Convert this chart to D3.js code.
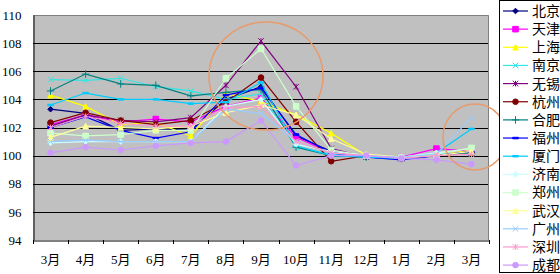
<!DOCTYPE html>
<html><head><meta charset="utf-8">
<script src="https://cdn.jsdelivr.net/npm/d3@7"></script>
<style>
html,body{margin:0;padding:0;background:#fff;}
svg{display:block;}
text{font-family:"Liberation Serif","Noto Sans CJK SC",serif;}
</style></head>
<body>
<svg id="c" width="560" height="274"></svg>
<script>
const months = ["3月","4月","5月","6月","7月","8月","9月","10月","11月","12月","1月","2月","3月"];
const yTicks = [94,96,98,100,102,104,106,108,110];
const cities = ["北京","天津","上海","南京","无锡","杭州","合肥","福州","厦门","济南","郑州","武汉","广州","深圳","成都"];
const colors = ["#000080","#FF00FF","#FFFF00","#33E5E5","#800080","#800000","#008080","#0000FF","#00CCFF","#CCFFFF","#CCFFCC","#FFFF99","#99CCFF","#FF99CC","#CC99FF"];
const markers = ["diamond","square","triangle","x","star","circle","plus","dash","dash","diamond","square","triangle","x","star","circle"];

const bj = [103.3,103.0,101.8,101.9,101.8,104.0,104.9,101.4,100.3,99.9,99.8,100.0,100.3];
const tj = [102.2,102.9,102.4,102.6,102.4,103.5,104.1,101.3,100.2,100.0,99.9,100.5,100.3];
const sh = [104.3,103.5,102.2,102.35,101.4,104.4,103.85,102.9,101.6,100.0,99.9,100.0,100.4];
const nj = [105.4,105.35,105.5,104.9,104.6,104.0,104.4,100.6,100.1,99.9,99.8,100.1,100.2];
const wx = [102.1,102.9,102.5,102.4,102.7,105.0,108.15,104.9,100.5,99.9,99.8,100.0,100.2];
const hz = [102.35,103.05,102.5,102.2,102.5,103.8,105.55,102.4,99.6,100.0,99.8,100.0,100.2];
const hf = [104.6,105.8,105.1,105.0,104.25,104.5,104.7,100.6,100.0,99.9,99.8,100.0,100.2];
const fz = [102.0,102.75,101.8,101.25,101.7,104.3,104.8,101.5,100.2,99.9,99.7,100.0,100.3];
const xm = [103.6,104.45,104.0,104.0,103.7,103.8,105.2,100.7,100.0,99.9,99.8,100.2,101.9];
const jn = [100.9,101.0,101.0,101.0,101.0,103.5,104.0,100.8,100.3,100.0,99.9,100.2,100.5];
const zz = [101.6,101.4,101.5,101.8,101.8,105.5,107.6,103.5,100.4,100.0,99.9,100.1,100.55];
const wh = [101.3,102.1,102.0,101.9,102.1,103.05,103.6,102.9,101.2,100.1,99.9,100.0,100.3];
const gz = [101.0,101.1,101.0,101.0,101.0,103.3,103.0,101.0,100.2,100.0,99.9,100.1,102.7];
const szh = [102.0,102.8,102.3,102.1,102.1,103.4,103.5,101.0,100.2,100.0,99.8,100.0,100.1];
const cd = [100.2,100.6,100.4,100.7,100.9,101.0,102.5,99.3,100.0,100.0,99.8,99.7,99.4];
const series = [bj,tj,sh,nj,wx,hz,hf,fz,xm,jn,zz,wh,gz,szh,cd];

const svg = d3.select("#c");
const L = 33, R = 489, T = 15, B = 240;
const x = d3.scaleBand().domain(d3.range(months.length)).range([L, R]);
const y = d3.scaleLinear().domain([94,110]).range([B, T]);
const cx = i => x(i) + x.bandwidth()/2;

svg.append("rect").attr("x",L).attr("y",T).attr("width",R-L).attr("height",B-T).attr("fill","#C0C0C0");

// gridlines
svg.append("g").selectAll("line").data(yTicks.filter(v=>v>94 && v<110)).join("line")
  .attr("x1",L).attr("x2",R).attr("y1",d=>Math.round(y(d))+0.5).attr("y2",d=>Math.round(y(d))+0.5)
  .attr("stroke","#000").attr("stroke-width",1);
// border top/right
svg.append("path").attr("d",`M${L},${T+0.5}H${R-0.5}V${B}`).attr("fill","none").attr("stroke","#808080");

// y axis
const ya = d3.axisLeft(y).tickValues(yTicks).tickSize(0).tickPadding(12);
const gy = svg.append("g").attr("transform",`translate(${L+0.5},0)`).call(ya);
gy.select(".domain").attr("stroke","#000");
gy.selectAll("text").attr("font-size",13).attr("fill","#000");

// x axis
const xa = d3.axisBottom(x).tickFormat(i=>months[i]).tickSize(0).tickPadding(14);
const gx = svg.append("g").attr("transform",`translate(0,${B+0.5})`).call(xa);
gx.select(".domain").attr("stroke","#000");
gx.selectAll("text").attr("font-size",13).attr("fill","#000");
// boundary ticks
svg.append("g").selectAll("line").data(d3.range(months.length+1)).join("line")
  .attr("x1",i=>Math.round(L + i*x.step())+0.5).attr("x2",i=>Math.round(L + i*x.step())+0.5)
  .attr("y1",B).attr("y2",B+4).attr("stroke","#000");

function markerPath(type, s){
  switch(type){
    case "diamond": return `M0,${-s}L${s},0L0,${s}L${-s},0Z`;
    case "square": return `M${-s},${-s}H${s}V${s}H${-s}Z`;
    case "triangle": return `M0,${-s}L${s},${s}H${-s}Z`;
    case "x": return `M${-s},${-s}L${s},${s}M${s},${-s}L${-s},${s}`;
    case "star": return `M${-s},${-s}L${s},${s}M${s},${-s}L${-s},${s}M0,${-s}V${s}`;
    case "circle": return `M${s},0A${s},${s} 0 1,1 ${-s},0A${s},${s} 0 1,1 ${s},0Z`;
    case "plus": return `M${-s-1},0H${s+1}M0,${-s-1}V${s+1}`;
    case "dash": return `M${-s},-0.75H${s}V0.75H${-s}Z`;
  }
}
const filled = t => ["diamond","square","triangle","circle","dash"].includes(t);

const line = d3.line().x((d,i)=>cx(i)).y(d=>y(d));
const gs = svg.append("g");
series.forEach((s,k)=>{
  const g = gs.append("g");
  g.append("path").attr("d",line(s)).attr("fill","none").attr("stroke",colors[k]).attr("stroke-width",1.2);
  g.selectAll("path.m").data(s).join("path").attr("class","m")
    .attr("transform",(d,i)=>`translate(${cx(i)},${y(d)})`)
    .attr("d",markerPath(markers[k],2.8))
    .attr("fill",filled(markers[k])?colors[k]:"none")
    .attr("stroke",colors[k]).attr("stroke-width",1);
});

// orange circles
svg.append("ellipse").attr("cx",266).attr("cy",76).attr("rx",57).attr("ry",54)
  .attr("fill","none").attr("stroke","#E89A6A").attr("stroke-width",1.5);
svg.append("ellipse").attr("cx",475).attr("cy",137).attr("rx",32).attr("ry",33)
  .attr("fill","none").attr("stroke","#E89A6A").attr("stroke-width",1.5);

// legend
const lg = svg.append("g");
lg.append("rect").attr("x",499.5).attr("y",0.5).attr("width",80).attr("height",272).attr("fill","#fff").attr("stroke","#000");
cities.forEach((c,k)=>{
  const yy = 11 + k*18.15;
  lg.append("line").attr("x1",503).attr("x2",528).attr("y1",yy).attr("y2",yy).attr("stroke",colors[k]).attr("stroke-width",1.2);
  lg.append("path").attr("transform",`translate(515.5,${yy})`).attr("d",markerPath(markers[k],2.8))
    .attr("fill",filled(markers[k])?colors[k]:"none").attr("stroke",colors[k]);
  lg.append("text").attr("x",532).attr("y",yy).attr("dy","0.35em").attr("font-size",14)
    .style("font-family","'Noto Sans CJK SC'").text(c);
});
</script>
</body></html>
